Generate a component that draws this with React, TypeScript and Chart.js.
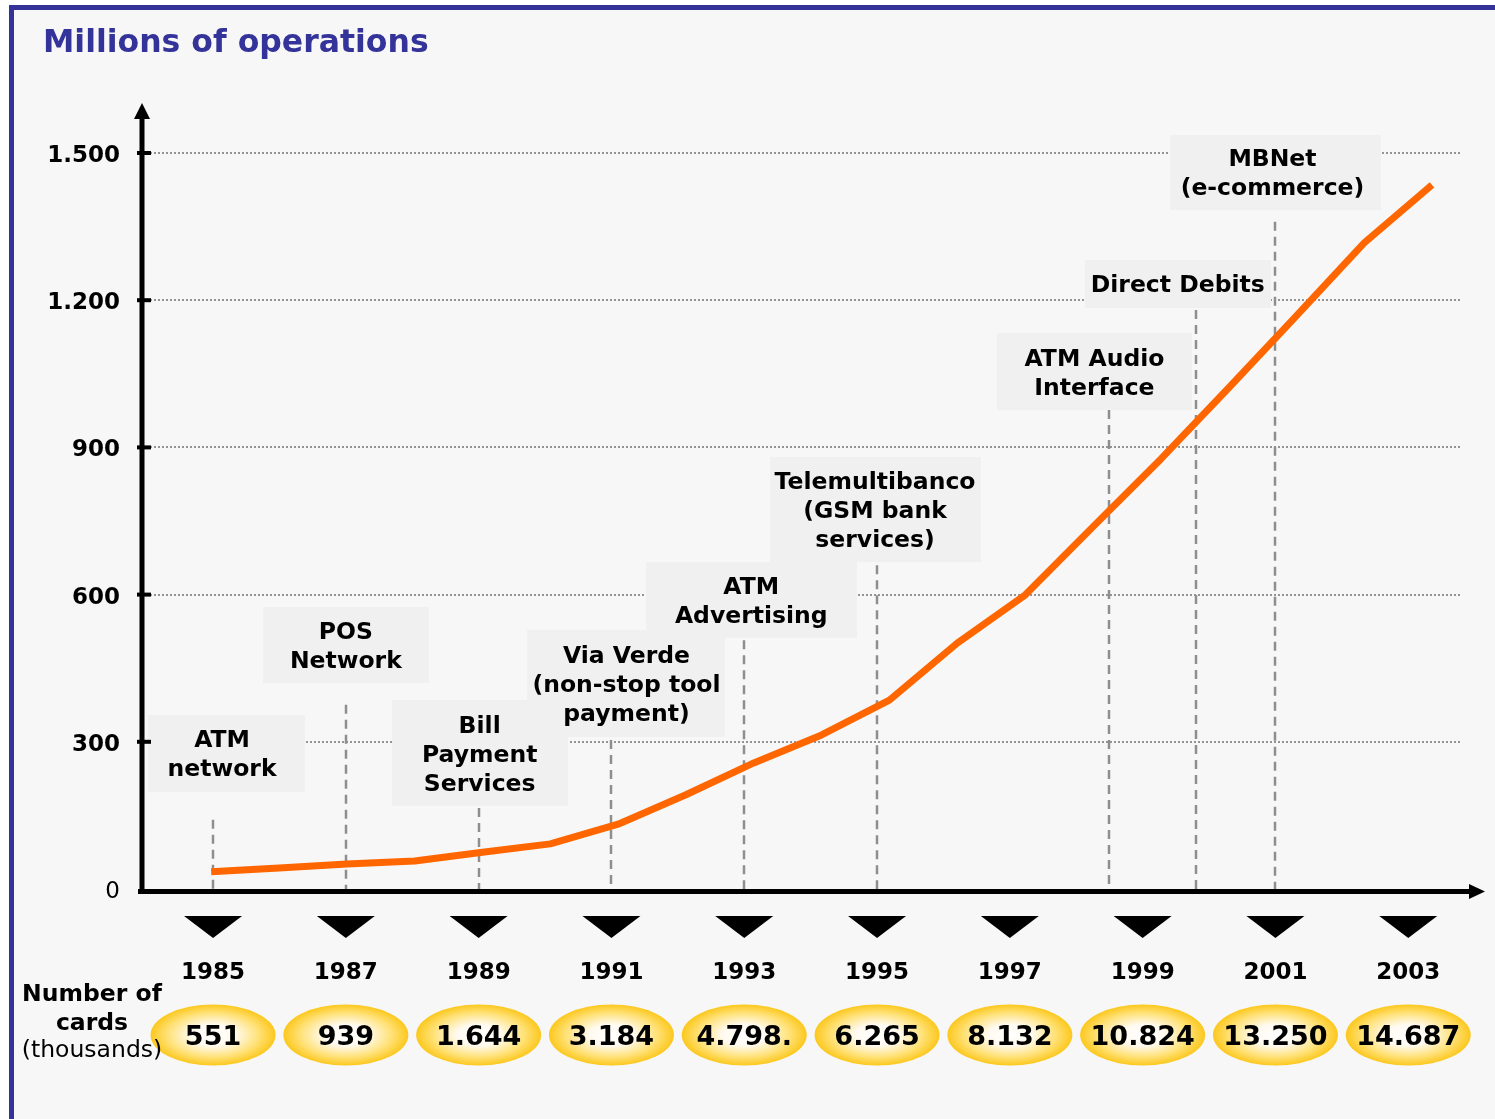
import React, { useEffect, useRef } from "react";
import { Chart, registerables } from "chart.js";

Chart.register(...registerables);

// ---------- data ----------
const years = [1985, 1986, 1987, 1988, 1989, 1990, 1991, 1992, 1993, 1994, 1995, 1996, 1997, 1998, 1999, 2000, 2001, 2002, 2003];
const operations = [35, 43, 51, 57, 75, 92, 132, 192, 257, 314, 385, 501, 599, 738, 876, 1021, 1168, 1317, 1435];

const yTicks = [0, 300, 600, 900, 1200, 1500];

const labelYears = [1985, 1987, 1989, 1991, 1993, 1995, 1997, 1999, 2001, 2003];
const cardLabels = ["551", "939", "1.644", "3.184", "4.798.", "6.265", "8.132", "10.824", "13.250", "14.687"];

const annotationTexts = [
  ["ATM", "network"],
  ["POS", "Network"],
  ["Bill", "Payment", "Services"],
  ["Via Verde", "(non-stop tool", "payment)"],
  ["ATM", "Advertising"],
  ["Telemultibanco", "(GSM bank", "services)"],
  ["ATM Audio", "Interface"],
  ["Direct Debits"],
  ["MBNet", "(e-commerce)"],
];
const annotationYears = [1985, 1987, 1989, 1991, 1993, 1995, 1998.5, 1999.8, 2001];

// ---------- layout / style (not data) ----------
const FONT = '"DejaVu Sans", Verdana, sans-serif';
const boxLayout = [
  { dx: 13, tx: -4, top: 355, w: 157, h: 77, gap: 28 },
  { dx: 0, tx: 0, top: 575, w: 166, h: 76, gap: 22 },
  { dx: 1, tx: 0, top: 385, w: 176, h: 106, gap: 2 },
  { dx: 15, tx: 0, top: 528, w: 198, h: 107, gap: 3 },
  { dx: 7, tx: 0, top: 666, w: 211, h: 76, gap: 2 },
  { dx: -2, tx: 0, top: 880, w: 211, h: 105, gap: 3 },
  { dx: -15, tx: 0, top: 1133, w: 195, h: 77, gap: 0 },
  { dx: -18, tx: 0, top: 1282, w: 186, h: 48, gap: 2 },
  { dx: 0, tx: -3, top: 1537, w: 211, h: 75, gap: 12 },
];

function fmtTick(v: number): string {
  if (v >= 1000) {
    const th = Math.floor(v / 1000);
    const rest = String(v % 1000).padStart(3, "0");
    return th + "." + rest;
  }
  return String(v);
}

const infographic = {
  id: "infographic",
  beforeDraw(chart: any) {
    const { ctx, width, height, chartArea } = chart;
    const ys = chart.scales.y;
    const xl = chart.scales.xl;
    const y0 = ys.getPixelForValue(0);
    ctx.save();
    // page + frame
    ctx.fillStyle = "#ffffff";
    ctx.fillRect(0, 0, width, height);
    ctx.fillStyle = "#f7f7f7";
    ctx.fillRect(9, 5, width - 9, height - 5);
    ctx.fillStyle = "#333399";
    ctx.fillRect(9, 5, width - 9, 5);
    ctx.fillRect(9, 5, 5, height - 5);

    // dotted gridlines
    ctx.strokeStyle = "#949494";
    ctx.lineWidth = 2;
    ctx.setLineDash([2, 2]);
    yTicks.forEach((v) => {
      if (v === 0) return;
      const py = Math.round(ys.getPixelForValue(v));
      ctx.beginPath();
      ctx.moveTo(chartArea.left + 8, py);
      ctx.lineTo(chartArea.right - 10, py);
      ctx.stroke();
    });
    ctx.setLineDash([]);

    // annotation boxes
    annotationYears.forEach((yr, i) => {
      const b = boxLayout[i];
      const cx = xl.getPixelForValue(yr) + b.dx;
      const top = ys.getPixelForValue(b.top);
      ctx.fillStyle = "#f0f0f0";
      ctx.fillRect(Math.round(cx - b.w / 2), Math.round(top), b.w, b.h);
    });

    // dashed vertical lines
    ctx.strokeStyle = "#8e8e8e";
    ctx.lineWidth = 2.5;
    ctx.setLineDash([9, 6]);
    annotationYears.forEach((yr, i) => {
      const b = boxLayout[i];
      const x = Math.round(xl.getPixelForValue(yr));
      const top = ys.getPixelForValue(b.top) + b.h + b.gap;
      ctx.beginPath();
      ctx.moveTo(x, top);
      ctx.lineTo(x, y0);
      ctx.stroke();
    });
    ctx.setLineDash([]);

    // axes
    ctx.fillStyle = "#000000";
    ctx.fillRect(chartArea.left - 4, y0, chartArea.right - chartArea.left + 4, 5);
    ctx.beginPath();
    ctx.moveTo(chartArea.right + 15, y0 + 2.5);
    ctx.lineTo(chartArea.right - 1, y0 - 5);
    ctx.lineTo(chartArea.right - 1, y0 + 10);
    ctx.closePath();
    ctx.fill();
    const yTop = chartArea.top - 35;
    ctx.fillRect(chartArea.left - 2.5, yTop, 5, y0 + 5 - yTop);
    ctx.beginPath();
    ctx.moveTo(chartArea.left, chartArea.top - 50);
    ctx.lineTo(chartArea.left - 8, yTop + 1);
    ctx.lineTo(chartArea.left + 8, yTop + 1);
    ctx.closePath();
    ctx.fill();
    ctx.textAlign = "right";
    ctx.textBaseline = "alphabetic";
    yTicks.forEach((v) => {
      const py = ys.getPixelForValue(v);
      if (v !== 0) ctx.fillRect(chartArea.left - 5, py - 2, 14, 4);
      ctx.font = (v === 0 ? "normal " : "bold ") + "23px " + FONT;
      ctx.fillText(fmtTick(v), chartArea.left - 22, py + 9);
    });

    // annotation texts
    ctx.textAlign = "center";
    ctx.font = "bold 23.5px " + FONT;
    ctx.fillStyle = "#000000";
    annotationYears.forEach((yr, i) => {
      const b = boxLayout[i];
      const cx = xl.getPixelForValue(yr) + b.dx + b.tx;
      const top = ys.getPixelForValue(b.top);
      const center = top + b.h / 2;
      const lines = annotationTexts[i];
      lines.forEach((ln, j) => {
        const base = center - ((lines.length - 1) * 29) / 2 + j * 29 + 8.5;
        ctx.fillText(ln, cx, base);
      });
    });
    ctx.restore();
  },
  afterDraw(chart: any) {
    const { ctx } = chart;
    const ys = chart.scales.y;
    const xl = chart.scales.xl;
    const y0 = ys.getPixelForValue(0);
    ctx.save();
    labelYears.forEach((yr, i) => {
      const x = xl.getPixelForValue(yr);
      ctx.fillStyle = "#000000";
      ctx.beginPath();
      ctx.moveTo(x - 29, y0 + 27);
      ctx.lineTo(x + 29, y0 + 27);
      ctx.lineTo(x, y0 + 49);
      ctx.closePath();
      ctx.fill();
      ctx.textAlign = "center";
      ctx.textBaseline = "alphabetic";
      ctx.font = "bold 23px " + FONT;
      ctx.fillText(String(yr), x, y0 + 90);
      const cy = y0 + 146;
      const rx = 62.5;
      const ry = 30.5;
      ctx.save();
      ctx.translate(x, cy);
      ctx.scale(1, ry / rx);
      const g = ctx.createRadialGradient(0, 0, 0, 0, 0, rx);
      g.addColorStop(0, "#ffffff");
      g.addColorStop(0.35, "#fffaf0");
      g.addColorStop(0.72, "#ffe27a");
      g.addColorStop(1, "#fcc81e");
      ctx.fillStyle = g;
      ctx.beginPath();
      ctx.arc(0, 0, rx, 0, Math.PI * 2);
      ctx.fill();
      ctx.restore();
      ctx.fillStyle = "#000000";
      ctx.font = "bold 27px " + FONT;
      ctx.fillText(cardLabels[i], x, cy + 9.5);
    });

    ctx.fillStyle = "#000000";
    ctx.textAlign = "center";
    ctx.font = "bold 23.5px " + FONT;
    ctx.fillText("Number of", 92, y0 + 112);
    ctx.fillText("cards", 92, y0 + 141);
    ctx.font = "normal 23.5px " + FONT;
    ctx.fillText("(thousands)", 92, y0 + 168);

    ctx.textAlign = "left";
    ctx.fillStyle = "#333399";
    ctx.font = "bold 31.5px " + FONT;
    ctx.fillText("Millions of operations", 43, 52);
    ctx.restore();
  },
};

export default function App() {
  const ref = useRef<HTMLCanvasElement | null>(null);
  useEffect(() => {
    if (!ref.current) return;
    const chart = new Chart(ref.current, {
      type: "line",
      data: {
        datasets: [
          {
            label: "Millions of operations",
            data: years.map((yr, i) => ({ x: yr, y: operations[i] })),
            borderColor: "#ff6600",
            borderWidth: 7,
            pointRadius: 0,
            tension: 0,
            fill: false,
            borderJoinStyle: "round",
            borderCapStyle: "butt",
          },
        ],
      },
      options: {
        responsive: false,
        animation: false,
        devicePixelRatio: 1,
        layout: { padding: { left: 142, right: 25, top: 153, bottom: 230 } },
        plugins: {
          legend: { display: false },
          tooltip: { enabled: false },
          title: { display: false },
        },
        scales: {
          x: { type: "linear", min: 1983.98, max: 2003.56, display: false },
          xl: { type: "linear", axis: "x", position: "bottom", min: 1983.93, max: 2003.93, display: false },
          y: { type: "linear", min: 0, max: 1500, display: false },
        },
      },
      plugins: [infographic],
    } as any);
    return () => chart.destroy();
  }, []);
  return (
    <div style={{ position: "absolute", left: 0, top: 0, width: 1495, height: 1119 }}>
      <canvas ref={ref} width={1495} height={1119} style={{ display: "block" }} />
    </div>
  );
}
